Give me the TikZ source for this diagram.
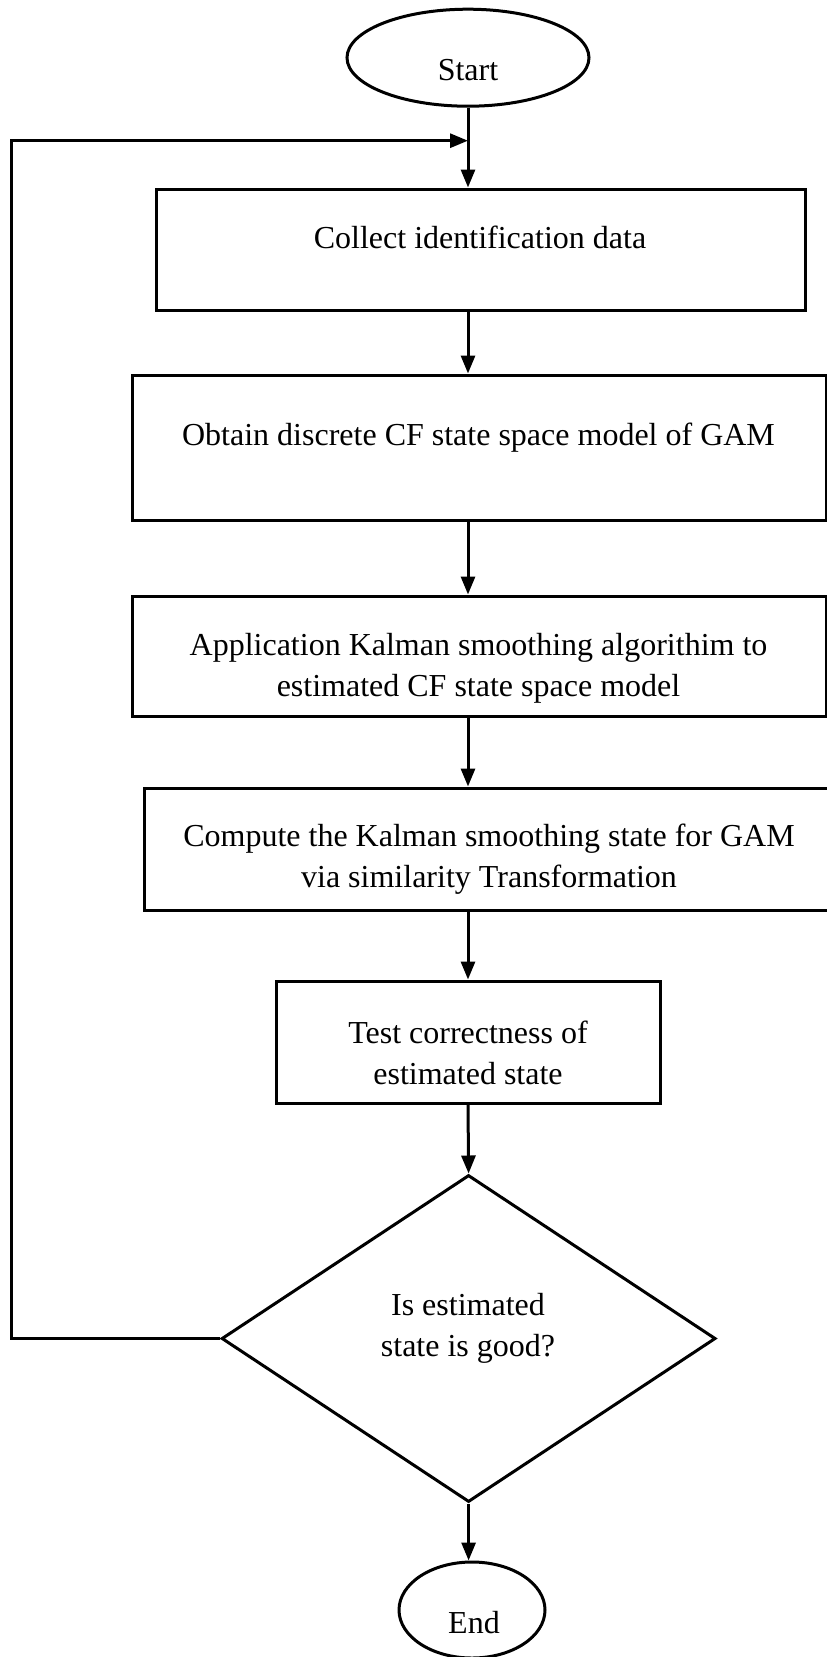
\documentclass[tikz,border=0pt]{standalone}
\usepackage{fontspec}
\setmainfont{Liberation Serif}
\usetikzlibrary{shapes.geometric,arrows.meta}
\begin{document}
\begin{tikzpicture}[x=1pt,y=-1pt,line width=3pt,
  every node/.style={font=\fontsize{32}{41}\selectfont},
  stepbox/.style={draw,rectangle,inner sep=0pt},
  terminal/.style={draw,ellipse,inner sep=0pt},
  decision/.style={draw,diamond,inner sep=0pt},
  txt/.style={inner sep=0pt,align=center},
  flow/.style={-{Triangle[length=18pt,width=14pt]}}]
\useasboundingbox (0,0) rectangle (827,1657);

% shapes
\node[terminal,minimum width=242pt,minimum height=97pt] (start) at (468,57.7) {};
\node[stepbox,minimum width=649pt,minimum height=121pt] (b1) at (480.5,249.5) {};
\node[stepbox,minimum width=694pt,minimum height=145pt] (b2) at (479,447.5) {};
\node[stepbox,minimum width=694pt,minimum height=120pt] (b3) at (479,656) {};
\node[stepbox,minimum width=690pt,minimum height=122pt] (b4) at (489,849) {};
\node[stepbox,minimum width=384pt,minimum height=122pt] (b5) at (468,1042) {};
\node[decision,minimum width=494pt,minimum height=327pt] (dec) at (468.6,1338.5) {};
\node[terminal,minimum width=146pt,minimum height=96pt] (end) at (472,1610) {};

% texts
\node[txt,anchor=base] (tstart) at (468,80.5) {Start};
\node[txt,anchor=base] (t1) at (480,248) {Collect identification data};
\node[txt,anchor=base] (t2) at (478.5,445) {Obtain discrete CF state space model of GAM};
\node[txt] (t3) at (478.5,668) {Application Kalman smoothing algorithim to\\estimated CF state space model};
\node[txt] (t4) at (489,859) {Compute the Kalman smoothing state for GAM\\via similarity Transformation};
\node[txt] (t5) at (468,1053) {Test correctness of\\estimated state};
\node[txt] (td) at (468,1328) {Is estimated\\state is good?};
\node[txt,anchor=base] (tend) at (474,1633.5) {End};

% loop-back path
\coordinate (lp) at (11.6,140.7);

% connectors
\draw[flow] (start.south) -- (start.south |- b1.north);
\draw[flow] (start.south |- b1.south) -- (start.south |- b2.north);
\draw[flow] (start.south |- b2.south) -- (start.south |- b3.north);
\draw[flow] (start.south |- b3.south) -- (start.south |- b4.north);
\draw[flow] (start.south |- b4.south) -- (start.south |- b5.north);
\draw[flow] (b5.south) -- (dec.north);
\draw[flow] (dec.south) -- (dec.south |- end.north);
\draw[flow] (dec.west) -| (lp) -- (start.south |- lp);
\end{tikzpicture}
\end{document}
